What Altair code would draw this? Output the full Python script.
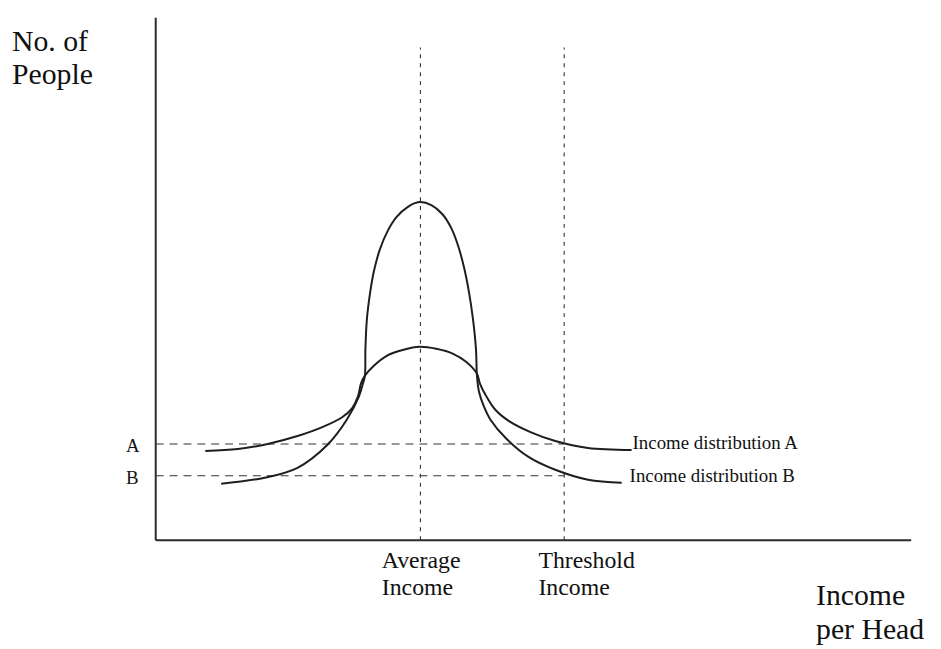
import altair as alt
import pandas as pd

# Schematic units: x = income per head, y = number of people (origin at the axes' corner)
a_x = [50, 83, 113, 143, 168, 188, 198, 204, 207, 211, 220, 233, 250, 266, 283, 300, 313, 324, 327, 333, 343, 358, 378, 403, 436, 480]
a_y = [90, 92, 97, 105, 114, 124, 133, 145, 158, 166, 176, 186, 192, 195, 193, 188, 180, 168, 158, 146, 131, 119, 109, 100, 93, 91]

b_x = [66, 110, 143, 173, 193, 205, 209, 211, 211.5, 213, 216, 220, 226, 234, 243, 254, 266, 278, 289, 298, 305, 311, 316, 320, 323, 324, 326, 331, 338, 353, 376, 403, 436, 470]
b_y = [57, 63, 73, 96, 122, 145, 158, 166, 193, 223, 248, 271, 293, 312, 326, 336, 341, 338, 329, 315, 297, 275, 250, 223, 193, 166, 150, 135, 121, 103, 84, 71, 61, 58]

average_income = 267
threshold_income = 412
level_a = 97
level_b = 65
x_max = 762
y_max = 527
ref_top = 497

big_labels = ["No. of", "People", "Income", "per Head"]
big_x = [-145, -145, 666, 666]
big_y = [493, 460, -65, -100]

mid_labels = ["Average", "Income", "Threshold", "Income"]
mid_x = [228, 228, 386, 386]
mid_y = [-28, -55, -28, -55]

small_labels = ["A", "B", "Income distribution A", "Income distribution B"]
small_x = [-30, -30, 481, 478]
small_y = [89, 57, 92, 59]

xs = alt.Scale(domain=[0, x_max], nice=False, zero=False)
ys = alt.Scale(domain=[0, y_max], nice=False, zero=False)

curves = pd.DataFrame(
    {"x": a_x + b_x, "y": a_y + b_y,
     "series": ["A"] * len(a_x) + ["B"] * len(b_x),
     "i": list(range(len(a_x))) + list(range(len(b_x)))}
)

curve_layer = alt.Chart(curves).mark_line(
    interpolate="catmull-rom", color="#1e1e1e", strokeWidth=2, clip=False
).encode(
    x=alt.X("x:Q", scale=xs, axis=None),
    y=alt.Y("y:Q", scale=ys, axis=None),
    detail="series:N",
    order="i:Q",
)

axes_df = pd.DataFrame({"x": [0, 0], "x2": [x_max, 0], "y": [0, 0], "y2": [0, y_max]})
axes_layer = alt.Chart(axes_df).mark_rule(color="#2a2a2a", strokeWidth=2).encode(
    x=alt.X("x:Q", scale=xs, axis=None), x2="x2:Q",
    y=alt.Y("y:Q", scale=ys, axis=None), y2="y2:Q",
)

hdf = pd.DataFrame({"x": [0, 0], "x2": [threshold_income, threshold_income], "y": [level_a, level_b]})
h_layer = alt.Chart(hdf).mark_rule(color="#333333", strokeWidth=1.2, strokeDash=[8, 6]).encode(
    x=alt.X("x:Q", scale=xs, axis=None), x2="x2:Q",
    y=alt.Y("y:Q", scale=ys, axis=None),
)

vdf = pd.DataFrame({"x": [average_income, threshold_income], "y": [0, 0], "y2": [ref_top, ref_top]})
v_layer = alt.Chart(vdf).mark_rule(color="#333333", strokeWidth=1.1, strokeDash=[4, 5]).encode(
    x=alt.X("x:Q", scale=xs, axis=None),
    y=alt.Y("y:Q", scale=ys, axis=None), y2="y2:Q",
)


def text_layer(labels, tx, ty, size):
    df = pd.DataFrame({"x": tx, "y": ty, "t": labels})
    return alt.Chart(df).mark_text(
        align="left", baseline="alphabetic", font="Liberation Serif",
        fontSize=size, color="#111111", clip=False
    ).encode(
        x=alt.X("x:Q", scale=xs, axis=None),
        y=alt.Y("y:Q", scale=ys, axis=None),
        text="t:N",
    )


chart = alt.layer(
    axes_layer, h_layer, v_layer, curve_layer,
    text_layer(big_labels, big_x, big_y, 30),
    text_layer(mid_labels, mid_x, mid_y, 24),
    text_layer(small_labels, small_x, small_y, 19),
).properties(
    width=x_max, height=y_max,
    autosize=alt.AutoSizeParams(type="none"),
    padding={"left": 149, "top": 7, "right": 22, "bottom": 107},
).configure(background="white").configure_view(stroke=None)

chart.save("out.html", embed_options={"renderer": "svg", "actions": False})
